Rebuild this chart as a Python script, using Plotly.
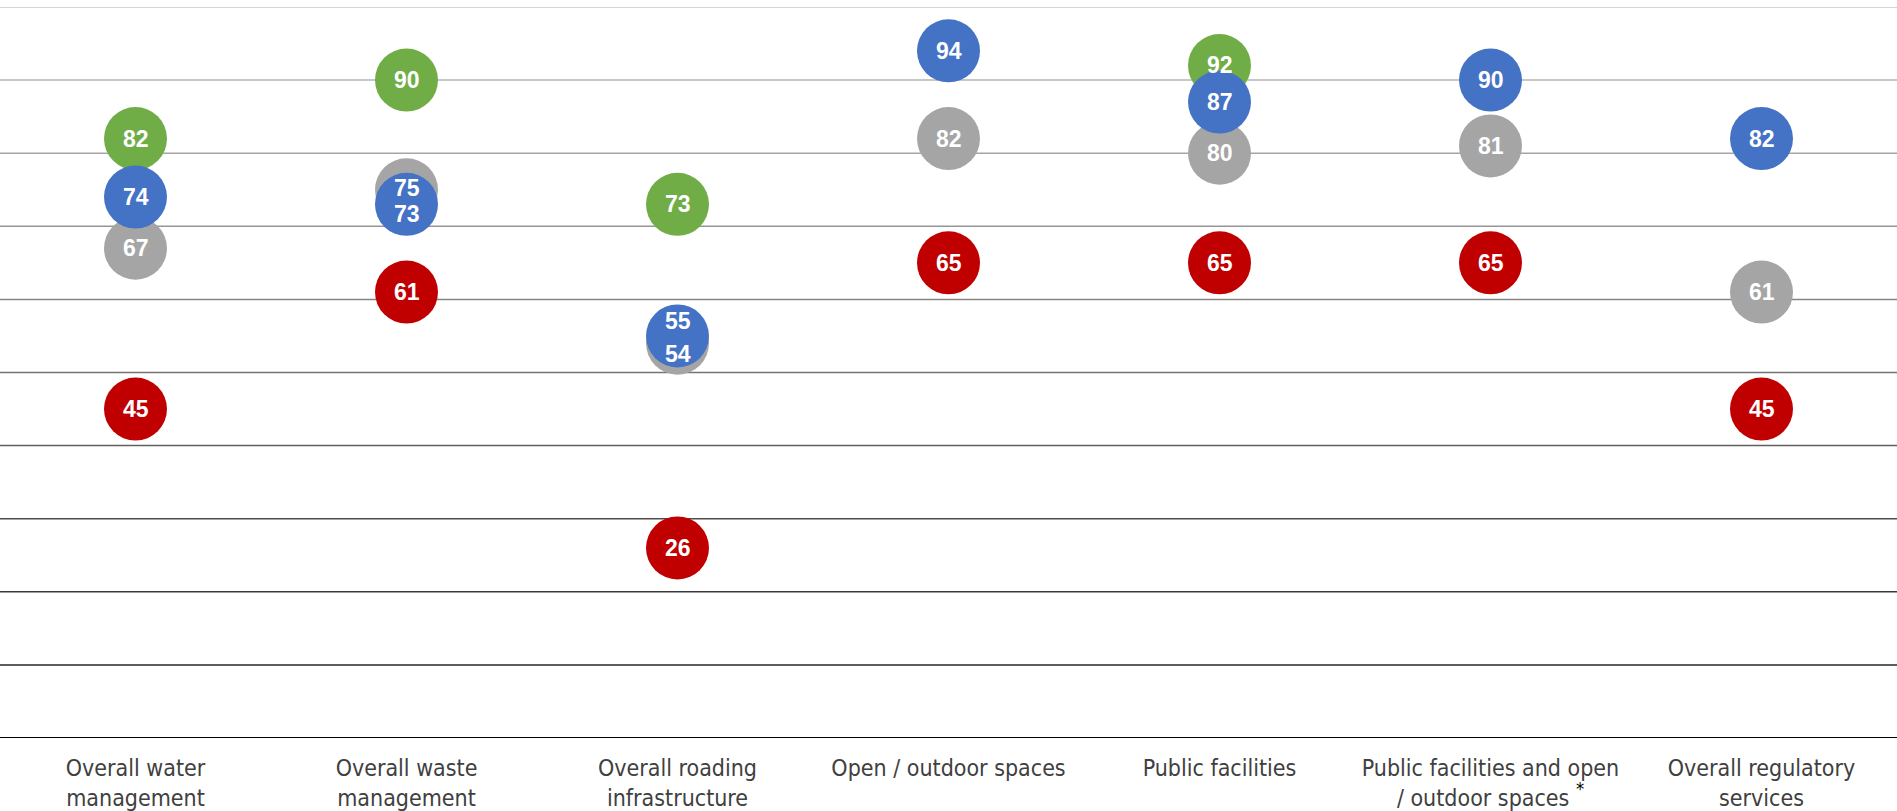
import plotly.graph_objects as go

categories = [
    "Overall water<br>management",
    "Overall waste<br>management",
    "Overall roading<br>infrastructure",
    "Open / outdoor spaces",
    "Public facilities",
    "Public facilities and open<br>/ outdoor spaces <span style='color:#000000;font-size:26px'><sup>*</sup></span>",
    "Overall regulatory<br>services",
]
series_gray = [67, 75, 54, 82, 80, 81, 61]
series_green = [82, 90, 73, None, 92, None, None]
series_red = [45, 61, 26, 65, 65, 65, 45]
series_blue = [74, 73, 55, 94, 87, 90, 82]
grid_values = [0, 10, 20, 30, 40, 50, 60, 70, 80, 90, 100]

grid_colors = ["#000000", "#262626", "#3a3a3a", "#4d4d4d", "#606060", "#737373",
               "#858585", "#969696", "#a6a6a6", "#b4b4b4", "#c6c6c6"]

series = [
    ("Gray", series_gray, "#A5A5A5"),
    ("Green", series_green, "#70AD47"),
    ("Red", series_red, "#C00000"),
    ("Blue", series_blue, "#4472C4"),
]
# label offsets (px) to keep overlapping labels readable
label_shift = {(1, "Gray"): 2, (1, "Blue"): -10, (2, "Blue"): 15, (2, "Gray"): -11}

x_idx = list(range(len(categories)))
fig = go.Figure()
annotations = []
for name, vals, col in series:
    fig.add_trace(go.Scatter(
        x=x_idx, y=vals, mode="markers", name=name,
        marker=dict(size=63, color=col, line=dict(width=0)),
        hoverinfo="skip", showlegend=False,
    ))
    for i, v in enumerate(vals):
        if v is None:
            continue
        annotations.append(dict(
            x=i, y=v, xref="x", yref="y", text=f"<b>{v}</b>", showarrow=False,
            font=dict(family="Liberation Sans, Arial, sans-serif", size=23, color="white"),
            yshift=label_shift.get((i, name), 0),
        ))

shapes = []
for gv, gc in zip(grid_values, grid_colors):
    shapes.append(dict(type="line", xref="paper", x0=0, x1=1, yref="y", y0=gv, y1=gv,
                       line=dict(color=gc, width=2 if gv == 0 else 1.5), layer="below"))

fig.update_layout(
    width=1897, height=811,
    margin=dict(l=0, r=0, t=7, b=71),
    paper_bgcolor="white", plot_bgcolor="white",
    shapes=shapes, annotations=annotations,
    xaxis=dict(range=[-0.5, len(categories) - 0.5], tickvals=x_idx, ticktext=categories,
               showgrid=False, zeroline=False, showline=False, ticks="",
               ticklabelstandoff=14,
               tickfont=dict(family="Liberation Sans Narrow, DejaVu Sans Condensed, Arial Narrow, sans-serif",
                             size=23, color="#404040")),
    yaxis=dict(range=[0, 100], showgrid=False, zeroline=False, showticklabels=False,
               showline=False, ticks=""),
)
fig.write_html("out.html", config={"displayModeBar": False},
               post_script="document.body.style.margin='0px';document.body.style.overflow='hidden';")
